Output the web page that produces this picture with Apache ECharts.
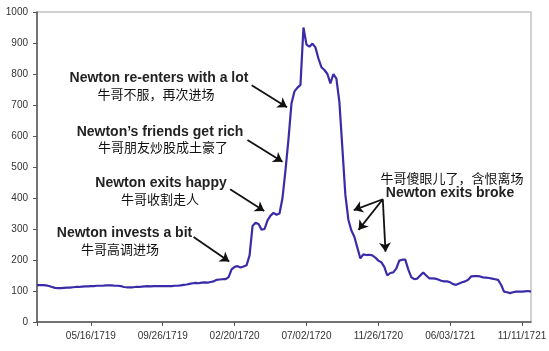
<!DOCTYPE html>
<html>
<head>
<meta charset="utf-8">
<script src="https://cdn.jsdelivr.net/npm/echarts@6/dist/echarts.min.js"></script>
<style>
  html, body { margin: 0; padding: 0; background: #fff; }
  #chart { width: 549px; height: 351px; }
</style>
</head>
<body>
<div id="chart"></div>
<script>
// 股价
const prices = [
  119, 119, 119, 118, 116, 113, 110, 109, 109, 110,
  111, 111, 112, 113, 113, 114, 115, 115, 116, 116,
  117, 117, 117, 118, 118, 118, 117, 117, 116, 113,
  112, 112, 112, 113, 113, 114, 115, 116, 115, 116,
  116, 116, 116, 116, 116, 116, 117, 117, 118, 120,
  121, 123, 125, 126, 125, 127, 128, 127, 129, 131,
  136, 137, 138, 138, 145, 170, 178, 180, 176, 179,
  183, 215, 310, 320, 316, 298, 300, 328, 343, 352,
  346, 350, 400, 490, 590, 705, 744, 756, 765, 950,
  895, 888, 898, 886, 850, 822, 813, 800, 770, 800,
  785, 710, 560, 410, 330, 295, 275, 240, 205, 218,
  216, 217, 215, 208, 198, 193, 178, 150, 158, 160,
  172, 198, 201, 201, 170, 145, 138, 140, 150, 160,
  150, 141, 141, 140, 137, 133, 131, 131, 128, 122,
  120, 124, 128, 131, 136, 147, 148, 148, 147, 144,
  143, 142, 140, 138, 136, 120, 98, 96, 93, 96,
  98, 98, 98, 99, 100, 98,
];

// x轴刻度标签
const tickLabels = ['05/16/1719', '09/26/1719', '02/20/1720', '07/02/1720', '11/26/1720', '06/03/1721', '11/11/1721'];
const tickFirst = 18;
const tickEvery = 24;

// 按刻度日期补出每个点的日期
const anchorTimes = tickLabels.map((s) => {
  const [m, d, y] = s.split('/').map(Number);
  return Date.UTC(y, m - 1, d);
});
const pad = (n) => String(n).padStart(2, '0');
const categories = prices.map((v, i) => {
  let k = Math.floor((i - tickFirst) / tickEvery);
  k = Math.max(0, Math.min(anchorTimes.length - 2, k));
  const t0 = anchorTimes[k];
  const t1 = anchorTimes[k + 1];
  const t = t0 + (i - (tickFirst + k * tickEvery)) * (t1 - t0) / tickEvery;
  const d = new Date(t);
  return pad(d.getUTCMonth() + 1) + '/' + pad(d.getUTCDate()) + '/' + d.getUTCFullYear();
});
const isTick = (i) => i >= tickFirst && (i - tickFirst) % tickEvery === 0;

// 箭头 [起点, 终点]，数据坐标 [点序号, 价格]
const arrows = [
  [[71.7, 764], [83.5, 693]],
  [[70.3, 587], [82.0, 517]],
  [[64.5, 428], [75.9, 358]],
  [[52.3, 274], [64.2, 195]],
  [[115.5, 396], [105.8, 361]],
  [[115.5, 396], [107.4, 297]],
  [[115.5, 396], [116.4, 227]],
];

// 注释文字
const notes = [
  { en: 'Newton re-enters with a lot', zh: '牛哥不服，再次进场', x: 159, y: 78, zx: 156, zy: 94.5 },
  { en: 'Newton\u2019s friends get rich', zh: '牛哥朋友炒股成土豪了', x: 160, y: 132.5, zx: 163, zy: 147.5 },
  { en: 'Newton exits happy', zh: '牛哥收割走人', x: 161, y: 183.5, zx: 160, zy: 199.5 },
  { en: 'Newton invests a bit', zh: '牛哥高调进场', x: 124.5, y: 233.5, zx: 120, zy: 249.5 },
  { en: 'Newton exits broke', zh: '牛哥傻眼儿了，含恨离场', x: 450, y: 193.5, zx: 452, zy: 178.5 },
];

const enFont = 'bold 14px "Liberation Sans", Arial, sans-serif';
const zhFont = '13px "Noto Sans CJK SC", sans-serif';

const graphics = [];
notes.forEach((n) => {
  graphics.push({
    type: 'text', x: n.x, y: n.y, silent: true,
    style: { text: n.en, font: enFont, fill: '#222', align: 'center', verticalAlign: 'middle' },
  });
  graphics.push({
    type: 'text', x: n.zx, y: n.zy, silent: true,
    style: { text: n.zh, font: zhFont, fill: '#111', align: 'center', verticalAlign: 'middle' },
  });
});

const myChart = echarts.init(document.getElementById('chart'));
myChart.setOption({
  animation: false,
  grid: {
    left: 37,
    right: 18,
    top: 12,
    bottom: 29,
    show: true,
    borderColor: '#c4c4c4',
    borderWidth: 1.5,
    outerBoundsMode: 'none',
    containLabel: false,
  },
  xAxis: [
    {
      type: 'category',
      data: categories,
      boundaryGap: false,
      axisLine: { show: true, lineStyle: { color: '#555', width: 1.5 } },
      axisTick: {
        show: true,
        length: 4,
        interval: (i) => i === 0 || isTick(i),
        lineStyle: { color: '#555', width: 1 },
      },
      axisLabel: {
        interval: (i) => isTick(i),
        color: '#333',
        fontSize: 10,
        fontFamily: 'Liberation Sans',
        margin: 9,
        hideOverlap: false,
      },
      splitLine: { show: false },
    },
    {
      type: 'value',
      min: 0,
      max: prices.length - 1,
      show: false,
    },
  ],
  yAxis: {
    type: 'value',
    min: 0,
    max: 1000,
    interval: 100,
    axisLine: { show: true, lineStyle: { color: '#555', width: 1.5 } },
    axisTick: { show: true, length: 4, lineStyle: { color: '#555', width: 1 } },
    axisLabel: {
      color: '#333',
      fontSize: 10,
      fontFamily: 'Liberation Sans',
      margin: 9,
      formatter: (v) => String(v),
    },
    splitLine: { show: false },
  },
  series: [
    {
      name: 'price',
      type: 'line',
      data: prices,
      symbol: 'none',
      lineStyle: { color: '#3a2ca8', width: 2.2 },
      itemStyle: { color: '#3a2ca8' },
    },
    {
      name: 'arrows',
      type: 'line',
      xAxisIndex: 1,
      data: [],
      markLine: {
        silent: true,
        symbol: ['none', 'arrow'],
        symbolSize: 9,
        label: { show: false },
        lineStyle: { color: '#111', width: 1.8, type: 'solid' },
        emphasis: { disabled: true },
        data: arrows.map((a) => [{ coord: a[0] }, { coord: a[1] }]),
      },
    },
  ],
  graphic: graphics,
});
</script>
</body>
</html>
